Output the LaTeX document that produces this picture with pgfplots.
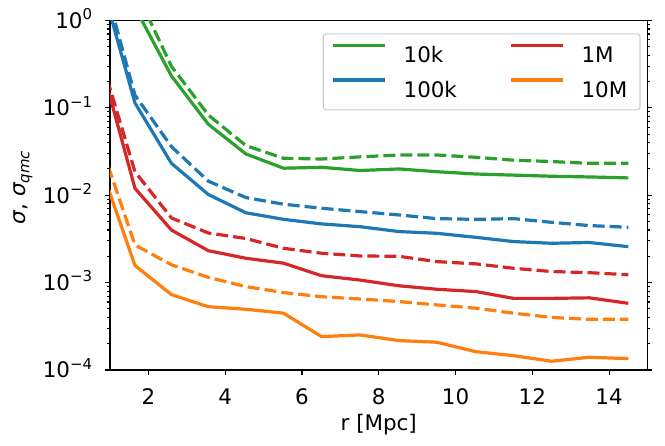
\documentclass[border=0pt]{standalone}
\usepackage{pgfplots}
\pgfplotsset{compat=1.18}
\usepackage{fontspec}
\setmainfont{DejaVu Sans}
\definecolor{tabgreen}{HTML}{2CA02C}
\definecolor{tabblue}{HTML}{1F77B4}
\definecolor{tabred}{HTML}{D62728}
\definecolor{taborange}{HTML}{FF7F0E}
\newcommand{\tp}[1]{10\raisebox{8.5bp}{\fontsize{15}{15}\selectfont #1}}
\newcommand{\lt}[1]{\makebox[54bp][l]{#1}}
\newcommand{\ltb}[1]{\makebox[50bp][l]{#1}}

\pgfplotstableread{
x y
0.67 8
1.65 1.41
2.60 0.232
3.56 0.065
4.54 0.0297
5.52 0.0204
6.51 0.0209
7.51 0.0192
8.53 0.0200
9.51 0.0186
10.53 0.0175
11.51 0.0170
12.50 0.0165
13.48 0.0162
14.50 0.0158
}\gs
\pgfplotstableread{
x y
0.67 20
1.65 2.3
2.60 0.30
3.56 0.083
4.54 0.037
5.52 0.0265
6.51 0.026
7.51 0.0275
8.53 0.0289
9.51 0.0289
10.53 0.0272
11.51 0.0252
12.50 0.0243
13.48 0.0232
14.50 0.0232
}\gd
\pgfplotstableread{
x y
0.67 4.0
1.65 0.114
2.60 0.0232
3.56 0.0102
4.54 0.0063
5.52 0.0053
6.51 0.0047
7.51 0.00437
8.53 0.00384
9.51 0.00367
10.53 0.0033
11.51 0.00295
12.50 0.00282
13.48 0.00288
14.50 0.00258
}\bs
\pgfplotstableread{
x y
0.67 5.3
1.65 0.14
2.60 0.036
3.56 0.0145
4.54 0.0094
5.52 0.0079
6.51 0.0071
7.51 0.0065
8.53 0.00595
9.51 0.0054
10.53 0.0053
11.51 0.0054
12.50 0.0049
13.48 0.0045
14.50 0.0043
}\bd
\pgfplotstableread{
x y
0.67 0.46
1.65 0.012
2.60 0.0040
3.56 0.00232
4.54 0.0019
5.52 0.00167
6.51 0.0012
7.51 0.00107
8.53 0.00092
9.51 0.00084
10.53 0.00079
11.51 0.00066
12.50 0.00066
13.48 0.00067
14.50 0.00058
}\rs
\pgfplotstableread{
x y
0.67 0.51
1.65 0.0186
2.60 0.0055
3.56 0.0037
4.54 0.0032
5.52 0.00247
6.51 0.00217
7.51 0.00202
8.53 0.0020
9.51 0.00174
10.53 0.00164
11.51 0.00146
12.50 0.00134
13.48 0.0013
14.50 0.00123
}\rd
\pgfplotstableread{
x y
0.67 0.0275
1.65 0.00157
2.60 0.00073
3.56 0.00053
4.54 0.000496
5.52 0.000447
6.51 0.000241
7.51 0.000252
8.53 0.000217
9.51 0.000208
10.53 0.000162
11.51 0.000146
12.50 0.000126
13.48 0.000140
14.50 0.000135
}\os
\pgfplotstableread{
x y
0.67 0.05
1.65 0.0027
2.60 0.0016
3.56 0.00115
4.54 0.0009
5.52 0.00077
6.51 0.00069
7.51 0.00065
8.53 0.000607
9.51 0.000556
10.53 0.00051
11.51 0.000447
12.50 0.0004
13.48 0.00038
14.50 0.00038
}\od

\begin{document}
\begin{tikzpicture}
\begin{axis}[
  at={(0,0)}, anchor=south west,
  scale only axis, width=537.5bp, height=349.5bp,
  xmin=1, xmax=15, ymin=1e-4, ymax=1,
  ymode=log,
  xtick={2,4,6,8,10,12,14},
  ytick={1e-4,1e-3,1e-2,1e-1,1},
  yticklabels={\tp{−4},\tp{−3},\tp{−2},\tp{−1},\tp{0}},
  tick align=outside,
  xtick pos=left, ytick pos=both,
  major tick length=4.67bp, minor tick length=2.67bp,
  every tick/.style={black, line width=1.07bp},
  axis line style={line width=1.07bp},
  /pgf/number format/assume math mode=true,
  tick label style={font=\fontsize{21.5}{21.5}\selectfont},
  xticklabel style={anchor=north, inner sep=0pt, text height=15.7bp, text depth=0pt, yshift=-14bp},
  yticklabel style={anchor=east, inner sep=0pt, text height=15.7bp, text depth=0pt, xshift=-13bp},
  xlabel={r [Mpc]},
  xlabel style={at={(axis description cs:0.5,0)}, anchor=base, yshift=-60bp, font=\fontsize{21.5}{21.5}\selectfont},
  ylabel={{\itshape σ}, {\itshape σ}\raisebox{-4bp}{\fontsize{15}{15}\selectfont\itshape qmc}},
  ylabel style={at={(axis description cs:-0.1628,0.522)}, anchor=center, inner sep=0pt, text height=12bp, text depth=6.4bp, font=\fontsize{21.5}{21.5}\selectfont},
  legend columns=2,
  legend image code/.code={\draw[#1] (0bp,9.4bp) -- (51.7bp,9.4bp);},
  legend style={at={(axis description cs:0.3957,0.9634)}, anchor=north west,
    draw=black!20, line width=1.07bp, fill=white, rounded corners=3bp,
    inner xsep=8.5bp, inner ysep=9.85bp, row sep=13.3bp,
    font=\fontsize{21.5}{21.5}\selectfont,
    nodes={inner sep=0pt, text height=18.5bp, text depth=2.5bp},
    /tikz/every odd column/.append style={column sep=17bp},
    /tikz/every even column/.append style={column sep=52bp}},
  every axis plot/.append style={line width=3.2bp, line join=round},
]
\addlegendimage{tabgreen, line width=3.2bp}\addlegendentry{\lt{10k}}
\addlegendimage{tabred, line width=3.2bp}\addlegendentry{\ltb{1M}}
\addlegendimage{tabblue, line width=3.2bp}\addlegendentry{\lt{100k}}
\addlegendimage{taborange, line width=3.2bp}\addlegendentry{\ltb{10M}}
\addplot[tabgreen, forget plot] table {\gs};
\addplot[tabgreen, dash pattern=on 12bp off 5bp, forget plot] table {\gd};
\addplot[tabblue, forget plot] table {\bs};
\addplot[tabblue, dash pattern=on 12bp off 5bp, forget plot] table {\bd};
\addplot[tabred, forget plot] table {\rs};
\addplot[tabred, dash pattern=on 12bp off 5bp, forget plot] table {\rd};
\addplot[taborange, forget plot] table {\os};
\addplot[taborange, dash pattern=on 12bp off 5bp, forget plot] table {\od};
\end{axis}
\pgfresetboundingbox
\useasboundingbox (-110bp,-76bp) rectangle (555bp,370bp);
\end{tikzpicture}
\end{document}
